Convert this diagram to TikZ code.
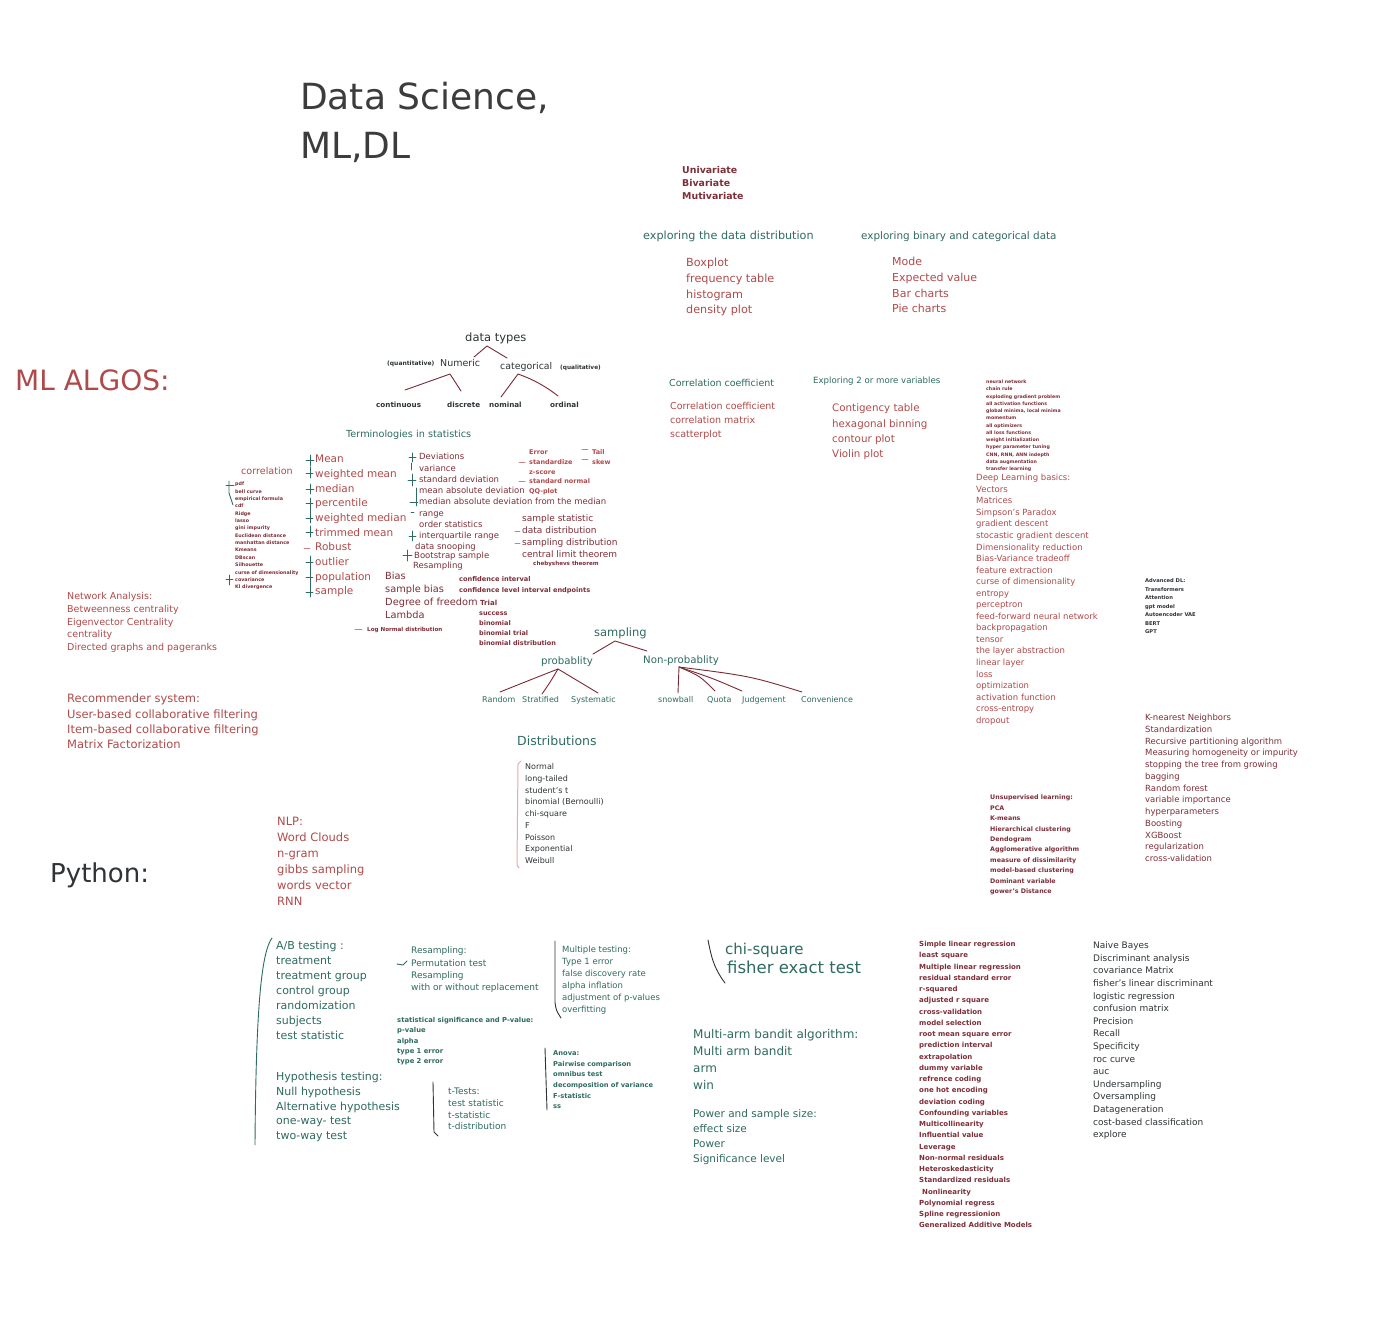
\documentclass[tikz,border=0pt]{standalone}
\usepackage{fontspec}
\setmainfont{DejaVu Sans}
\definecolor{cTeal}{HTML}{2E6B60}
\definecolor{cRed}{HTML}{B04A4A}
\definecolor{cMaroon}{HTML}{7E2E38}
\definecolor{cInk}{HTML}{2E3436}
\definecolor{cTitle}{HTML}{3C3C3C}
\definecolor{cLine}{HTML}{7A2A33}
\definecolor{cPink}{HTML}{E6AAA8}
% a column of text lines: name, x, y of first line, line step, style, items
\newcommand\stk[6]{\foreach \t [count=\i from 0] in {#6}{\node[txt,#5] (#1-\i) at (#2,{#3+\i*#4}) {\t};}}
\begin{document}
\begin{tikzpicture}[x=1pt,y=-1pt,
  txt/.style={inner sep=0pt,anchor=mid west},
  sz/.style={font=\fontsize{#1}{#1}\selectfont},
  sb/.style={font=\fontsize{#1}{#1}\selectfont\bfseries},
  tl/.style={text=cTeal}, rd/.style={text=cRed}, mr/.style={text=cMaroon}, dk/.style={text=cInk},
  ln/.style={draw=cLine,line width=0.9pt,line cap=round,line join=round},
  brk/.style={draw=cTeal,line width=0.9pt,line cap=round,line join=round},
  dbrk/.style={draw=cInk,line width=0.9pt,line cap=round,line join=round},
  dsh/.style={draw=cRed!70,line width=0.8pt,line cap=round}]
\fill[white] (0,0) rectangle (1400,1322);
\useasboundingbox (0,0) rectangle (1400,1322);

% titles
\node[txt,sz=36,text=cTitle] (title1) at (300,107) {Data Science,};
\node[txt,sz=36,text=cTitle] (title2) at (300,156) {ML,DL};
\node[txt,sz=28,text=cRed] (mlalgos) at (15,388) {ML ALGOS:};
\node[txt,sz=26,text=cInk] (python) at (50,880) {Python:};

% exploratory analysis
\stk{uni}{682}{171}{13}{sb=9.4,mr}{Univariate,Bivariate,Mutivariate}
\node[txt,sz=11.2,tl] (expl1) at (643,237) {exploring the data distribution};
\node[txt,sz=10.4,tl] (expl2) at (861,237) {exploring binary and categorical data};
\stk{dist1}{686}{264}{15.7}{sz=11.2,rd}{Boxplot,frequency table,histogram,density plot}
\stk{cat1}{892}{263}{15.7}{sz=11,rd}{Mode,Expected value,Bar charts,Pie charts}

% data types tree
\node[txt,sz=11.5,dk] (dtypes) at (465,339) {data types};
\node[txt,sb=6,dk] (quant) at (387,363) {(quantitative)};
\node[txt,sz=9.5,dk] (numeric) at (440,364) {Numeric};
\node[txt,sz=9.4,dk] (categ) at (500,367) {categorical};
\node[txt,sb=5.8,dk] (qual) at (560,367) {(qualitative)};
\node[txt,sb=7.2,dk] (cont) at (376,405) {continuous};
\node[txt,sb=7.2,dk] (discr) at (447,405) {discrete};
\node[txt,sb=7.2,dk] (nomin) at (489,405) {nominal};
\node[txt,sb=7.2,dk] (ordin) at (550,405) {ordinal};
\coordinate (dt-a) at (487,346); \coordinate (dt-l) at (474,357); \coordinate (dt-r) at (507,358);
\draw[ln] (dt-l) -- (dt-a) -- (dt-r);
\coordinate (num-a) at (450,374); \coordinate (num-l) at (405,390); \coordinate (num-r) at (461,391);
\draw[ln] (num-l) -- (num-a) -- (num-r);
\coordinate (cat-a) at (518,374); \coordinate (cat-l) at (501,397); \coordinate (cat-r) at (558,396);
\draw[ln] (cat-l) -- (cat-a) .. controls (535,380) and (548,388) .. (cat-r);

% statistics terminology
\node[txt,sz=9.7,tl] (terms) at (346,435) {Terminologies in statistics};
\node[txt,sz=9.6,rd] (corr) at (241,472) {correlation};
\stk{ctiny}{235}{483}{7.36}{sb=4.8,mr}{pdf,bell curve,empirical formula,cdf,Ridge,lasso,gini impurity,Euclidean distance,manhattan distance,Kmeans,DBscan,Silhouette,curse of dimensionality,covariance,Kl divergence}
\draw[brk] (229,481) -- (229,493) -- (233,505);
\draw[brk] (226,485) -- (234,485);
\draw[brk] (229,575) -- (229,585);
\draw[brk] (226,579) -- (233,579);

\stk{mean}{315}{460}{14.67}{sz=10.5,rd}{Mean,weighted mean,median,percentile,weighted median,trimmed mean,Robust,outlier,population,sample}
\draw[brk] (310,455) -- (310,466); \draw[brk] (306,460) -- (314,460);
\draw[brk] (310,467) -- (310,478); \draw[brk] (306,473) -- (313,473);
\draw[brk] (310,484) -- (310,494); \draw[brk] (306,489) -- (314,489);
\draw[brk] (310,498) -- (310,523); \draw[brk] (306,503) -- (313,503); \draw[brk] (306,518) -- (313,518);
\draw[brk] (310,526) -- (310,537); \draw[brk] (306,532) -- (313,532);
\draw[dsh] (304,548) -- (310,548);
\draw[brk] (310,556) -- (310,597);
\draw[brk] (306,562) -- (313,562); \draw[brk] (306,577) -- (313,577); \draw[brk] (306,592) -- (313,592);

\stk{dev}{419}{457}{11.29}{sz=8.5,mr}{Deviations,variance,standard deviation,mean absolute deviation,median absolute deviation from the median,range,order statistics,interquartile range}
\node[txt,sz=8.5,mr] (snoop) at (415,547) {data snooping};
\node[txt,sz=8.5,mr] (boot) at (414,556) {Bootstrap sample};
\node[txt,sz=8.5,mr] (resamp1) at (413,566) {Resampling};
\draw[brk] (412,453) -- (412,462); \draw[brk] (409,457) -- (416,457);
\draw[brk] (411,463) -- (411,470);
\draw[brk] (412,474) -- (412,486); \draw[brk] (408,480) -- (416,480);
\draw[brk] (416,488) -- (416,506); \draw[brk] (410,502) -- (418,502);
\draw[brk] (411,512) -- (414,512);
\draw[brk] (412,531) -- (412,541); \draw[brk] (409,536) -- (416,536);
\draw[brk] (407,550) -- (407,561); \draw[brk] (403,555) -- (412,555);

\stk{err}{529}{452}{9.7}{sb=6.5,rd}{Error,standardize,z-score,standard normal,QQ-plot}
\draw[dsh] (519,462) -- (525,462); \draw[dsh] (519,481) -- (525,481);
\stk{tail}{592}{452}{10}{sb=6.5,rd}{Tail,skew}
\draw[dsh] (582,449) -- (588,449); \draw[dsh] (582,459) -- (588,459);

\stk{samp}{522}{519}{12}{sz=9,mr}{sample statistic,data distribution,sampling distribution,central limit theorem}
\node[txt,sb=5.6,mr] (cheb) at (533,563) {chebyshevs theorem};
\draw[dsh] (515,531) -- (520,531); \draw[dsh] (515,543) -- (520,543);

\stk{bias}{385}{577}{13}{sz=9.8,mr}{Bias,sample bias,Degree of freedom,Lambda}
\node[txt,sb=5.6,mr] (lognorm) at (367,629) {Log Normal distribution};
\draw[dsh] (355,629) -- (362,629);
\stk{conf}{459}{579}{11}{sb=6.6,mr}{confidence interval,confidence level interval endpoints}
\node[txt,sb=7,mr] (trial) at (480,603) {Trial};
\stk{binom}{479}{613}{10}{sb=6.5,mr}{success,binomial,binomial trial,binomial distribution}

% sampling tree
\node[txt,sz=11.5,tl] (sampling) at (594,634) {sampling};
\node[txt,sz=10.2,tl] (prob) at (541,662) {probablity};
\node[txt,sz=10.2,tl] (nonprob) at (643,661) {Non-probablity};
\node[txt,sz=8,tl] (random) at (482,700) {Random};
\node[txt,sz=8,tl] (strat) at (522,700) {Stratified};
\node[txt,sz=8,tl] (syst) at (571,700) {Systematic};
\node[txt,sz=8,tl] (snow) at (658,700) {snowball};
\node[txt,sz=8,tl] (quota) at (707,700) {Quota};
\node[txt,sz=8,tl] (judge) at (742,700) {Judgement};
\node[txt,sz=8,tl] (conv) at (801,700) {Convenience};
\coordinate (sa-a) at (615,641); \coordinate (sa-l) at (593,654); \coordinate (sa-r) at (647,651);
\draw[ln] (sa-l) -- (sa-a) -- (sa-r);
\coordinate (pr-a) at (558,669);
\coordinate (pr-1) at (500,692); \coordinate (pr-2) at (542,694); \coordinate (pr-3) at (598,693);
\draw[ln] (pr-a) .. controls (535,678) .. (pr-1);
\draw[ln] (pr-a) .. controls (549,684) .. (pr-2);
\draw[ln] (pr-a) -- (pr-3);
\coordinate (np-a) at (679,667);
\coordinate (np-1) at (678,693); \coordinate (np-2) at (715,691); \coordinate (np-3) at (742,691); \coordinate (np-4) at (802,692);
\draw[ln] (np-a) -- (np-1);
\draw[ln] (np-a) .. controls (700,676) .. (np-2);
\draw[ln] (np-a) .. controls (712,678) .. (np-3);
\draw[ln] (np-a) .. controls (750,676) .. (np-4);

% distributions
\node[txt,sz=12.5,tl] (distrib) at (517,743) {Distributions};
\stk{dl}{525}{767}{11.75}{sz=8,dk}{Normal,long-tailed,student's t,binomial (Bernoulli),chi-square,F,Poisson,Exponential,Weibull}
\draw[draw=cPink,line width=1pt,line cap=round,line join=round] (521,761) -- (518,764) -- (517,865) -- (519,868);

% correlation and multivariate exploration
\node[txt,sz=9.5,tl] (corrcoef) at (669,384) {Correlation coefficient};
\stk{cc}{670}{407}{14}{sz=9.5,rd}{Correlation coefficient,correlation matrix,scatterplot}
\node[txt,sz=8.6,tl] (expl3) at (813,381) {Exploring 2 or more variables};
\stk{cont}{832}{409}{15.3}{sz=10.3,rd}{Contigency table,hexagonal binning,contour plot,Violin plot}

% deep learning
\stk{dlt}{986}{381}{7.25}{sb=4.7,mr}{neural network,chain rule,exploding gradient problem,all activation functions,{global minima, local minima},momentum,all optimizers,all loss functions,weight initialization,hyper parameter tuning,{CNN, RNN, ANN indepth},data augmentation,transfer learning}
\stk{dlb}{976}{478}{11.55}{sz=8.5,rd}{Deep Learning basics:,Vectors,Matrices,Simpson's Paradox,gradient descent,stocastic gradient descent,Dimensionality reduction,Bias-Variance tradeoff,feature extraction,curse of dimensionality,entropy,perceptron,feed-forward neural network,backpropagation,tensor,the layer abstraction,linear layer,loss,optimization,activation function,cross-entropy,dropout}
\stk{adv}{1145}{580}{8.5}{sb=5.2,dk}{Advanced DL:,Transformers,Attention,gpt model,Autoencoder VAE,BERT,GPT}

% machine learning
\stk{knn}{1145}{718}{11.75}{sz=8.5,mr}{K-nearest Neighbors,Standardization,Recursive partitioning algorithm,Measuring homogeneity or impurity,stopping the tree from growing,bagging,Random forest,variable importance,hyperparameters,Boosting,XGBoost,regularization,cross-validation}
\stk{uns}{990}{797}{10.45}{sb=6.3,mr}{Unsupervised learning:,PCA,K-means,Hierarchical clustering,Dendogram,Agglomerative algorithm,measure of dissimilarity,model-based clustering,Dominant variable,gower's Distance}
\stk{net}{67}{597}{12.75}{sz=9.5,rd}{Network Analysis:,Betweenness centrality,Eigenvector Centrality,centrality,Directed graphs and pageranks}
\stk{rec}{67}{700}{15.3}{sz=11.5,rd}{Recommender system:,User-based collaborative filtering,Item-based collaborative filtering,Matrix Factorization}
\stk{nlp}{277}{823}{16}{sz=11.5,rd}{NLP:,Word Clouds,n-gram,gibbs sampling,words vector,RNN}

% statistical experiments
\stk{ab}{276}{947}{15}{sz=11,tl}{A/B testing :,treatment,treatment group,control group,randomization,subjects,test statistic}
\stk{hyp}{276}{1078}{14.75}{sz=11,tl}{Hypothesis testing:,Null hypothesis,Alternative hypothesis,one-way- test,two-way test}
\draw[brk] (272,938) .. controls (262,952) and (256,1000) .. (255,1145);
\stk{res}{411}{951}{12.3}{sz=9,tl}{Resampling:,Permutation test,Resampling,with or without replacement}
\draw[brk] (397,964) -- (403,965) -- (407,961);
\stk{sig}{397}{1020}{10.25}{sb=6.8,tl}{statistical significance and P-value:,p-value,alpha,type 1 error,type 2 error}
\stk{mult}{562}{950}{12}{sz=8.5,tl}{Multiple testing:,Type 1 error,false discovery rate,alpha inflation,adjustment of p-values,overfitting}
\draw[dbrk] (555,941) -- (555,1002) .. controls (556,1010) .. (561,1018);
\stk{tt}{448}{1092}{11.7}{sz=9,tl}{t-Tests:,test statistic,t-statistic,t-distribution}
\draw[dbrk] (433,1082) -- (434,1132) -- (438,1136);
\stk{anova}{553}{1053}{10.6}{sb=6.7,tl}{Anova:,Pairwise comparison,omnibus test,decomposition of variance,F-statistic,ss}
\draw[dbrk] (545,1048) -- (547,1110);
\node[txt,sz=15,tl] (chisq) at (725,952) {chi-square};
\node[txt,sz=16.5,tl] (fisher) at (727,971) {fisher exact test};
\draw[dbrk] (708,940) .. controls (711,955) and (713,967) .. (725,983);
\stk{mab}{693}{1036}{17}{sz=12,tl}{Multi-arm bandit algorithm:,Multi arm bandit,arm,win}
\stk{pow}{693}{1115}{15}{sz=10.5,tl}{Power and sample size:,effect size,Power,Significance level}

% regression and classification
\stk{reg}{919}{944}{11.24}{sb=7,mr}{Simple linear regression,least square,Multiple linear regression,residual standard error,r-squared,adjusted r square,cross-validation,model selection,root mean square error,prediction interval,extrapolation,dummy variable,refrence coding,one hot encoding,deviation coding,Confounding variables,Multicollinearity,Influential value,Leverage,Non-normal residuals,Heteroskedasticity,Standardized residuals,\hspace{3pt}Nonlinearity,Polynomial regress,Spline regressionion,Generalized Additive Models}
\stk{nb}{1093}{946}{12.6}{sz=9,dk}{Naive Bayes,Discriminant analysis,covariance Matrix,fisher's linear discriminant,logistic regression,confusion matrix,Precision,Recall,Specificity,roc curve,auc,Undersampling,Oversampling,Datageneration,cost-based classification,explore}
\end{tikzpicture}
\end{document}
